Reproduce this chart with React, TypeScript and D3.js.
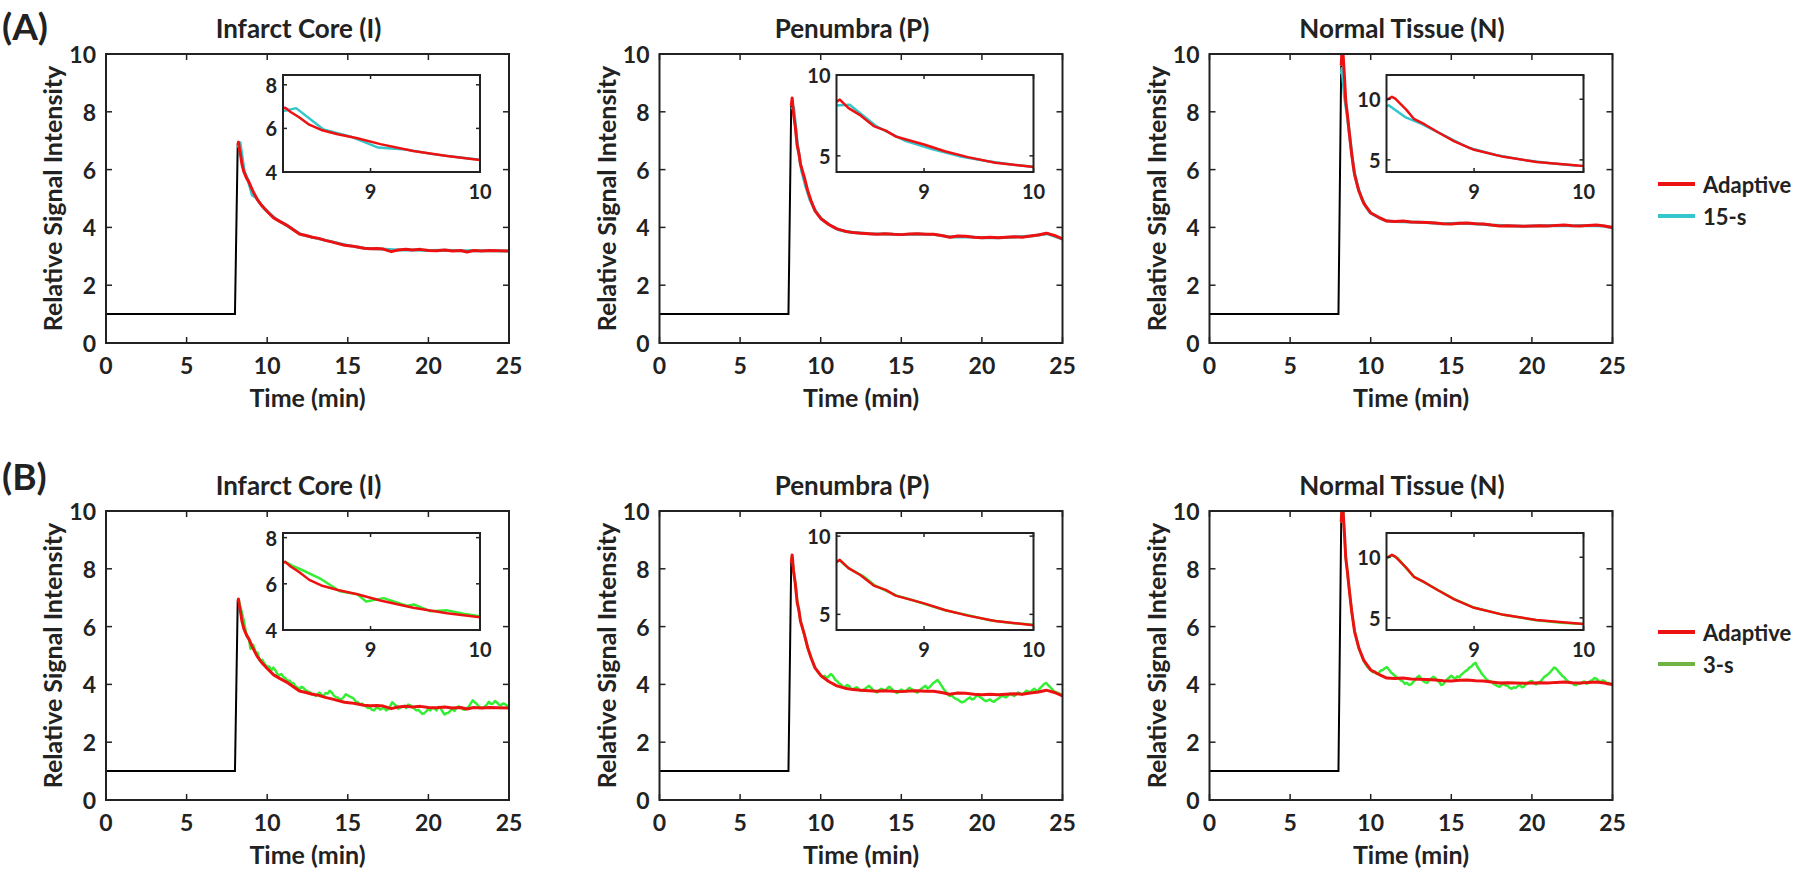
import React from 'react';
import * as d3 from 'd3';

type Pt = [number, number];

// ---------- tick labels / text ----------
const xTicks = [0, 5, 10, 15, 20, 25];
const yTicks = [0, 2, 4, 6, 8, 10];
const insetXTicks = [9, 10];
const titles = ['Infarct Core (I)', 'Penumbra (P)', 'Normal Tissue (N)'];
const rowLetters = ['(A)', '(B)'];
const legendA = ['Adaptive', '15-s'];
const legendB = ['Adaptive', '3-s'];

// ---------- pre-contrast baseline ----------
const baselineLevel = 1;
const injectionTime = 8.0;

// ---------- Adaptive (red) ----------
const adaptiveI: Pt[] = [
  [8.17, 6.85], [8.22, 6.95], [8.27, 6.75], [8.35, 6.5], [8.44, 6.17], [8.55, 5.93], [8.7, 5.73],
  [8.88, 5.55], [9.09, 5.28], [9.39, 4.96], [9.7, 4.73], [10.0, 4.55], [10.4, 4.33], [10.8, 4.2],
  [11.2, 4.08], [11.6, 3.93], [12.0, 3.77], [12.4, 3.72], [12.8, 3.66], [13.2, 3.62], [13.6, 3.55],
  [14.0, 3.5], [14.4, 3.44], [14.8, 3.38], [15.2, 3.36], [15.6, 3.32], [16.0, 3.28], [16.4, 3.26],
  [16.8, 3.27], [17.2, 3.25], [17.7, 3.16], [18.1, 3.22], [18.6, 3.24], [19.0, 3.22], [19.5, 3.24],
  [20.0, 3.2], [20.5, 3.19], [21.0, 3.22], [21.5, 3.18], [22.0, 3.2], [22.4, 3.15], [22.8, 3.2],
  [23.3, 3.18], [23.8, 3.2], [24.3, 3.19], [25.0, 3.18],
];
const adaptiveP: Pt[] = [
  [8.17, 8.2], [8.23, 8.48], [8.31, 7.95], [8.42, 7.5], [8.54, 6.84], [8.65, 6.56], [8.74, 6.2],
  [9.0, 5.7], [9.19, 5.28], [9.4, 4.92], [9.65, 4.57], [10.0, 4.31], [10.5, 4.1], [11.0, 3.95],
  [11.5, 3.87], [12.0, 3.82], [12.5, 3.8], [13.0, 3.78], [13.5, 3.76], [14.0, 3.78], [14.5, 3.76],
  [15.0, 3.75], [15.5, 3.77], [16.0, 3.78], [16.5, 3.76], [17.0, 3.76], [17.5, 3.72], [18.0, 3.66],
  [18.5, 3.7], [19.0, 3.69], [19.5, 3.66], [20.0, 3.64], [20.5, 3.66], [21.0, 3.64], [21.5, 3.66],
  [22.0, 3.68], [22.5, 3.66], [23.0, 3.7], [23.5, 3.74], [24.0, 3.8], [24.5, 3.72], [25.0, 3.6],
];
const adaptiveN: Pt[] = [
  [8.17, 9.6], [8.2, 9.94], [8.25, 10.2], [8.28, 10.05], [8.38, 9.14], [8.45, 8.39], [8.55, 7.92],
  [8.67, 7.28], [8.82, 6.53], [9.0, 5.83], [9.27, 5.25], [9.57, 4.83], [10.0, 4.5], [10.5, 4.35],
  [11.0, 4.22], [11.5, 4.2], [12.0, 4.22], [12.5, 4.19], [13.0, 4.18], [13.5, 4.17], [14.0, 4.15],
  [14.5, 4.13], [15.0, 4.12], [15.5, 4.14], [16.0, 4.15], [16.5, 4.13], [17.0, 4.12], [17.5, 4.08],
  [18.0, 4.05], [18.5, 4.06], [19.0, 4.05], [19.5, 4.04], [20.0, 4.05], [20.5, 4.06], [21.0, 4.05],
  [21.5, 4.07], [22.0, 4.08], [22.5, 4.06], [23.0, 4.05], [23.5, 4.07], [24.0, 4.08], [24.5, 4.05],
  [25.0, 4.0],
];

// ---------- 15-s (cyan) ----------
const fifteenI: Pt[] = [
  [8.17, 6.75], [8.32, 6.93], [8.57, 5.95], [8.82, 5.62], [9.07, 5.12], [9.32, 5.03], [9.57, 4.82],
  [9.82, 4.66], [10.07, 4.52], [10.57, 4.28], [11.07, 4.12], [11.57, 3.94], [12.07, 3.76],
  [13.07, 3.62], [14.07, 3.5], [15.07, 3.37], [16.07, 3.28], [17.07, 3.25], [18.07, 3.22],
  [19.07, 3.22], [20.07, 3.2], [21.07, 3.21], [22.07, 3.19], [23.07, 3.19], [24.07, 3.19], [25.0, 3.18],
];
const fifteenP: Pt[] = [
  [8.17, 8.1], [8.32, 8.16], [8.57, 6.8], [8.82, 5.95], [9.07, 5.42], [9.32, 4.98], [9.57, 4.68],
  [9.82, 4.45], [10.07, 4.28], [10.57, 4.08], [11.07, 3.93], [11.57, 3.86], [12.07, 3.82],
  [13.07, 3.78], [14.07, 3.77], [15.07, 3.75], [16.07, 3.77], [17.07, 3.75], [18.07, 3.67],
  [19.07, 3.68], [20.07, 3.64], [21.07, 3.64], [22.07, 3.67], [23.07, 3.7], [24.07, 3.78], [25.0, 3.6],
];
const fifteenN: Pt[] = [
  [8.17, 9.3], [8.22, 9.5], [8.37, 8.53], [8.52, 7.97], [8.7, 7.15], [8.95, 6.0], [9.2, 5.4],
  [9.45, 5.0], [9.7, 4.72], [9.95, 4.52], [10.45, 4.35], [10.95, 4.23], [11.45, 4.2], [12.45, 4.19],
  [13.45, 4.17], [14.45, 4.13], [15.45, 4.14], [16.45, 4.13], [17.45, 4.08], [18.45, 4.06],
  [19.45, 4.04], [20.45, 4.06], [21.45, 4.07], [22.45, 4.06], [23.45, 4.07], [24.45, 4.05], [25.0, 4.0],
];

// ---------- 3-s (green): early part as points, later part sampled every 0.125 min ----------
const threeEarlyI: Pt[] = [
  [8.17, 6.9], [8.22, 6.95], [8.3, 6.75], [8.42, 6.5], [8.55, 6.2], [8.72, 5.68], [8.88, 5.55],
  [8.96, 5.23], [9.12, 5.38], [9.33, 5.05], [9.4, 5.1], [9.55, 4.81], [9.7, 4.85], [9.85, 4.7], [10.0, 4.6],
];
const threeEarlyP: Pt[] = [
  [8.17, 8.3], [8.23, 8.45], [8.31, 7.95], [8.45, 7.42], [8.55, 6.85], [8.65, 6.52], [8.75, 6.2],
  [8.9, 5.9], [9.0, 5.68], [9.2, 5.25], [9.4, 4.95], [9.6, 4.62], [9.8, 4.45], [10.0, 4.33],
];
const threeEarlyN: Pt[] = [
  [8.17, 9.6], [8.2, 9.9], [8.25, 10.15], [8.3, 9.95], [8.38, 9.1], [8.45, 8.4], [8.55, 7.9],
  [8.67, 7.3], [8.82, 6.55], [9.0, 5.85], [9.27, 5.25], [9.57, 4.8], [9.8, 4.6], [10.0, 4.5],
];
const threeLateStart = 10.125;
const threeLateStep = 0.125;
const threeLateI = [
  4.62, 4.48, 4.58, 4.5, 4.36, 4.32, 4.36,
  4.26, 4.22, 4.12, 4.14, 4.04, 4.05, 3.94, 3.9,
  3.82, 3.92, 3.88, 3.8, 3.76, 3.74, 3.66, 3.68,
  3.6, 3.66, 3.72, 3.64, 3.6, 3.7, 3.68, 3.78,
  3.72, 3.62, 3.56, 3.55, 3.48, 3.5, 3.56, 3.66,
  3.62, 3.58, 3.55, 3.5, 3.4, 3.38, 3.3, 3.34,
  3.28, 3.24, 3.18, 3.2, 3.12, 3.1, 3.18, 3.2,
  3.13, 3.16, 3.2, 3.1, 3.14, 3.24, 3.38, 3.32,
  3.26, 3.16, 3.2, 3.22, 3.26, 3.18, 3.3, 3.28,
  3.22, 3.16, 3.1, 3.12, 3.05, 2.98, 3.0, 3.08,
  3.14, 3.1, 3.2, 3.16, 3.1, 3.22, 3.18, 3.06,
  2.96, 3.0, 3.02, 3.1, 3.14, 3.08, 3.2, 3.24,
  3.2, 3.14, 3.12, 3.18, 3.22, 3.34, 3.45, 3.38,
  3.32, 3.24, 3.2, 3.18, 3.24, 3.3, 3.4, 3.32,
  3.34, 3.42, 3.38, 3.3, 3.28, 3.34, 3.32, 3.26,
  3.25,
];
const threeLateP = [
  4.24, 4.3, 4.22, 4.28, 4.36, 4.3, 4.18,
  4.12, 4.04, 4.0, 3.92, 3.9, 3.98, 3.95, 3.86,
  3.82, 3.88, 3.9, 3.82, 3.78, 3.8, 3.85, 3.9,
  3.95, 3.88, 3.8, 3.76, 3.72, 3.8, 3.85, 3.82,
  3.78, 3.86, 3.92, 3.86, 3.8, 3.74, 3.7, 3.78,
  3.82, 3.78, 3.75, 3.82, 3.88, 3.84, 3.8, 3.74,
  3.72, 3.78, 3.85, 3.9, 3.95, 3.86, 3.9, 3.98,
  4.05, 4.1, 4.15, 4.06, 3.95, 3.84, 3.75, 3.66,
  3.6, 3.62, 3.55, 3.5, 3.48, 3.42, 3.38, 3.4,
  3.45, 3.5, 3.55, 3.48, 3.5, 3.58, 3.62, 3.56,
  3.52, 3.46, 3.42, 3.45, 3.48, 3.42, 3.4, 3.46,
  3.5, 3.56, 3.6, 3.58, 3.55, 3.62, 3.68, 3.64,
  3.6, 3.66, 3.72, 3.68, 3.65, 3.7, 3.78, 3.76,
  3.72, 3.8, 3.85, 3.78, 3.8, 3.88, 3.95, 4.02,
  4.05, 3.96, 3.9, 3.82, 3.75, 3.72, 3.7, 3.66,
  3.62,
];
const threeLateN = [
  4.42, 4.45, 4.36, 4.4, 4.48, 4.5, 4.56,
  4.6, 4.52, 4.42, 4.36, 4.3, 4.24, 4.2, 4.14,
  4.1, 4.02, 4.05, 3.98, 4.0, 4.08, 4.15, 4.24,
  4.3, 4.2, 4.12, 4.08, 4.05, 4.14, 4.2, 4.26,
  4.22, 4.14, 4.08, 3.98, 4.0, 4.1, 4.18, 4.24,
  4.3, 4.24, 4.2, 4.28, 4.25, 4.34, 4.4, 4.46,
  4.5, 4.58, 4.62, 4.7, 4.75, 4.6, 4.5, 4.38,
  4.3, 4.22, 4.15, 4.1, 4.1, 4.02, 3.98, 3.94,
  3.92, 3.98, 4.02, 3.96, 3.95, 3.88, 3.85, 3.9,
  3.88, 3.94, 3.98, 3.9, 3.92, 4.0, 4.05, 4.1,
  4.12, 4.04, 4.0, 4.05, 4.08, 4.16, 4.25, 4.3,
  4.35, 4.42, 4.5, 4.58, 4.55, 4.46, 4.38, 4.3,
  4.25, 4.16, 4.1, 4.08, 4.05, 3.98, 3.98, 4.04,
  4.02, 4.08, 4.1, 4.02, 4.05, 4.12, 4.15, 4.22,
  4.2, 4.12, 4.08, 4.14, 4.12, 4.06, 4.05, 4.02,
  4.0,
];

// ---------- inset y axes ----------
const insetXDomain: Pt = [8.2, 10];
const insetYDomainsA: Pt[] = [[4, 8.45], [4, 10], [4, 12]];
const insetYDomainsB: Pt[] = [[4, 8.2], [4, 10.2], [4, 12]];
const insetYTicks = [[4, 6, 8], [5, 10], [5, 10]];

// ---------- styling ----------
const FONT = 'Lato, "Open Sans", sans-serif';
const TXT = '#222';
const RED = '#ee1111';
const CYAN = '#33c6cc';
const GREEN = '#33ee33';
const GREEN_LEG = '#6fb445';

const colLeft = [106, 659.5, 1209.5];
const rowTop = [54, 511];
const W = 403;
const H = 289;
const INSET = { dx: 177, dyA: 21, dyB: 22, w: 197, h: 97 };

const lateSeries = (early: Pt[], late: number[]): Pt[] =>
  early.concat(late.map((v, i) => [threeLateStart + i * threeLateStep, v] as Pt));

const adaptiveAll = [adaptiveI, adaptiveP, adaptiveN];
const fifteenAll = [fifteenI, fifteenP, fifteenN];
const threeAll = [
  lateSeries(threeEarlyI, threeLateI),
  lateSeries(threeEarlyP, threeLateP),
  lateSeries(threeEarlyN, threeLateN),
];

function Panel({ row, col }: { row: number; col: number }) {
  const left = colLeft[col];
  const top = rowTop[row];
  const x = d3.scaleLinear().domain([0, 25]).range([left, left + W]);
  const y = d3.scaleLinear().domain([0, 10]).range([top + H, top]);
  const line = d3.line<Pt>().x((d) => x(d[0])).y((d) => y(d[1]));
  const adaptive = adaptiveAll[col];
  const other = row === 0 ? fifteenAll[col] : threeAll[col];
  const otherColor = row === 0 ? CYAN : GREEN;
  const black: Pt[] = [[0, baselineLevel], [injectionTime, baselineLevel], adaptive[0]];

  const iLeft = left + INSET.dx;
  const iTop = top + (row === 0 ? INSET.dyA : INSET.dyB);
  const ix = d3.scaleLinear().domain(insetXDomain).range([iLeft, iLeft + INSET.w]);
  const iyDom = row === 0 ? insetYDomainsA[col] : insetYDomainsB[col];
  const iy = d3.scaleLinear().domain(iyDom).range([iTop + INSET.h, iTop]);
  const iline = d3.line<Pt>().x((d) => ix(d[0])).y((d) => iy(d[1]));
  const inInset = (pts: Pt[]) => pts.filter((d) => d[0] <= 10.3);

  const clipMain = `clip-main-${row}-${col}`;
  const clipInset = `clip-inset-${row}-${col}`;
  const tl = 6;
  const cx = left + W / 2;

  return (
    <g>
      <defs>
        <clipPath id={clipMain}>
          <rect x={left} y={top} width={W} height={H} />
        </clipPath>
        <clipPath id={clipInset}>
          <rect x={iLeft} y={iTop} width={INSET.w} height={INSET.h} />
        </clipPath>
      </defs>
      <text x={cx - 9} y={top - 26} textAnchor="middle" dominantBaseline="central"
        fontFamily={FONT} fontWeight={700} fontSize={26} fill={TXT}>{titles[col]}</text>
      {xTicks.map((t) => (
        <g key={'xt' + t}>
          <line x1={x(t)} x2={x(t)} y1={top + H} y2={top + H - tl} stroke={TXT} strokeWidth={1.5} />
          <line x1={x(t)} x2={x(t)} y1={top} y2={top + tl} stroke={TXT} strokeWidth={1.5} />
          <text x={x(t)} y={top + H + 22} textAnchor="middle" dominantBaseline="central"
            fontFamily={FONT} fontWeight={700} fontSize={23} fill={TXT}>{t}</text>
        </g>
      ))}
      {yTicks.map((t) => (
        <g key={'yt' + t}>
          <line x1={left} x2={left + tl} y1={y(t)} y2={y(t)} stroke={TXT} strokeWidth={1.5} />
          <line x1={left + W} x2={left + W - tl} y1={y(t)} y2={y(t)} stroke={TXT} strokeWidth={1.5} />
          <text x={left - 10} y={y(t)} textAnchor="end" dominantBaseline="central"
            fontFamily={FONT} fontWeight={700} fontSize={23} fill={TXT}>{t}</text>
        </g>
      ))}
      <text x={cx} y={top + H + 54} textAnchor="middle" dominantBaseline="central"
        fontFamily={FONT} fontWeight={700} fontSize={25} fill={TXT}>Time (min)</text>
      <text transform={`translate(${left - 54},${top + H / 2}) rotate(-90)`} textAnchor="middle"
        dominantBaseline="central" fontFamily={FONT} fontWeight={700} fontSize={25} fill={TXT}>
        Relative Signal Intensity
      </text>
      <g clipPath={`url(#${clipMain})`}>
        <path d={line(black) || ''} fill="none" stroke="#000" strokeWidth={2} />
        <path d={line(other) || ''} fill="none" stroke={otherColor} strokeWidth={row === 0 ? 3 : 2.5} strokeLinejoin="round" />
        <path d={line(adaptive) || ''} fill="none" stroke={RED} strokeWidth={3} strokeLinejoin="round" />
      </g>
      <rect x={left} y={top} width={W} height={H} fill="none" stroke={TXT} strokeWidth={2} />
      <rect x={iLeft} y={iTop} width={INSET.w} height={INSET.h} fill="#fff" />
      <g clipPath={`url(#${clipInset})`}>
        <path d={iline(inInset(other)) || ''} fill="none" stroke={otherColor} strokeWidth={2.5} strokeLinejoin="round" />
        <path d={iline(inInset(adaptive)) || ''} fill="none" stroke={RED} strokeWidth={2.5} strokeLinejoin="round" />
      </g>
      {insetXTicks.map((t) => (
        <g key={'ixt' + t}>
          <line x1={ix(t)} x2={ix(t)} y1={iTop + INSET.h} y2={iTop + INSET.h - 4} stroke={TXT} strokeWidth={1.5} />
          <line x1={ix(t)} x2={ix(t)} y1={iTop} y2={iTop + 4} stroke={TXT} strokeWidth={1.5} />
          <text x={ix(t)} y={iTop + INSET.h + 19} textAnchor="middle" dominantBaseline="central"
            fontFamily={FONT} fontWeight={700} fontSize={20} fill={TXT}>{t}</text>
        </g>
      ))}
      {insetYTicks[col].map((t) => (
        <g key={'iyt' + t}>
          <line x1={iLeft} x2={iLeft + 4} y1={iy(t)} y2={iy(t)} stroke={TXT} strokeWidth={1.5} />
          <line x1={iLeft + INSET.w} x2={iLeft + INSET.w - 4} y1={iy(t)} y2={iy(t)} stroke={TXT} strokeWidth={1.5} />
          <text x={iLeft - 6} y={iy(t)} textAnchor="end" dominantBaseline="central"
            fontFamily={FONT} fontWeight={700} fontSize={20} fill={TXT}>{t}</text>
        </g>
      ))}
      <rect x={iLeft} y={iTop} width={INSET.w} height={INSET.h} fill="none" stroke={TXT} strokeWidth={2} />
    </g>
  );
}

function Legend({ yTop, labels, colors }: { yTop: number; labels: string[]; colors: string[] }) {
  return (
    <g>
      {labels.map((l, i) => (
        <g key={l}>
          <line x1={1658} x2={1695} y1={yTop + i * 32} y2={yTop + i * 32} stroke={colors[i]} strokeWidth={4} />
          <text x={1703} y={yTop + i * 32} dominantBaseline="central" fontFamily={FONT}
            fontWeight={700} fontSize={22} fill={TXT}>{l}</text>
        </g>
      ))}
    </g>
  );
}

export default function App() {
  return (
    <svg width={1800} height={875} style={{ position: 'absolute', left: 0, top: 0, background: '#fff' }}>
      <rect width={1800} height={875} fill="#fff" />
      <text x={2} y={25} dominantBaseline="central" fontFamily={FONT} fontWeight={700} fontSize={37} fill={TXT}>{rowLetters[0]}</text>
      <text x={2} y={475} dominantBaseline="central" fontFamily={FONT} fontWeight={700} fontSize={37} fill={TXT}>{rowLetters[1]}</text>
      {[0, 1].map((r) => [0, 1, 2].map((c) => <Panel key={`${r}-${c}`} row={r} col={c} />))}
      <Legend yTop={184} labels={legendA} colors={[RED, CYAN]} />
      <Legend yTop={632} labels={legendB} colors={[RED, GREEN_LEG]} />
    </svg>
  );
}
